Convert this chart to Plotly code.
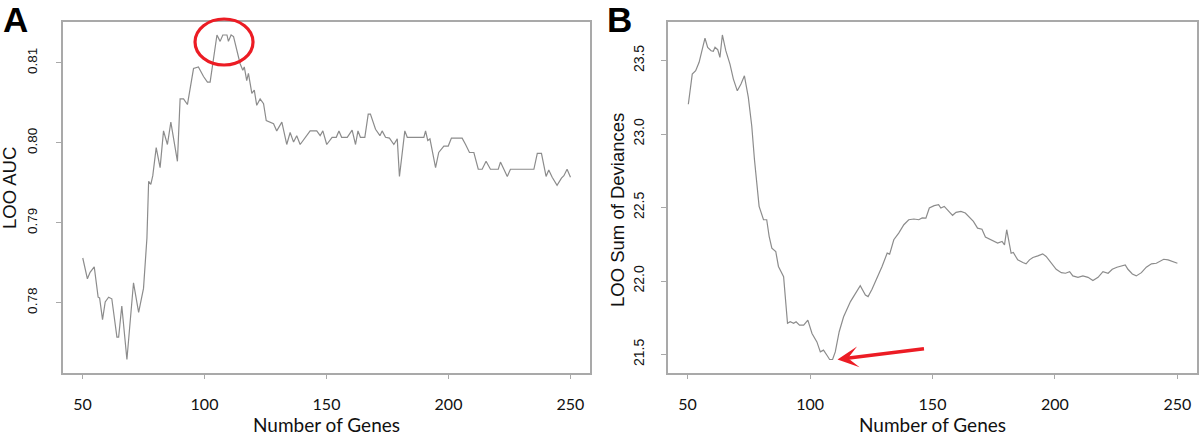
import plotly.graph_objects as go

# ---------------- data ----------------
genes_a = [50.1, 52.0, 53.1, 54.8, 56.4, 57.0, 58.2, 59.3, 60.7, 62.0, 64.1, 64.8, 66.1, 68.2,
           70.9, 73.0, 75.0, 76.4, 77.1, 78.0, 78.8, 80.2, 81.8, 83.2, 84.8, 86.2, 88.9, 90.0,
           91.4, 93.0, 95.5, 97.5, 99.6, 101.2, 102.3, 105.1, 106.4, 107.5, 109.2, 109.8, 110.9,
           111.9, 114.6, 115.7, 116.3, 117.3, 118.0, 119.4, 120.4, 121.4, 122.8, 124.2, 125.3,
           128.3, 129.6, 131.7, 133.7, 135.1, 136.5, 137.8, 139.2, 141.2, 143.3, 146.0, 147.4,
           148.5, 150.1, 152.3, 154.0, 155.1, 156.2, 158.5, 160.5, 161.9, 162.9, 163.9, 165.7,
           167.1, 168.0, 170.1, 171.9, 172.8, 174.2, 175.8, 177.6, 179.0, 179.9, 182.1, 183.1,
           189.9, 190.6, 191.5, 192.4, 194.7, 196.0, 198.1, 199.9, 201.2, 205.6, 207.0, 208.6,
           210.4, 212.2, 213.8, 215.4, 217.2, 220.4, 221.3, 222.7, 224.1, 225.4, 235.0, 236.4,
           238.1, 240.0, 241.1, 242.5, 244.5, 246.3, 247.3, 248.6, 250.0]
auc_a = [0.7856, 0.7830, 0.7838, 0.7845, 0.7807, 0.7806, 0.7779, 0.7801, 0.7807, 0.7805, 0.7757,
         0.7757, 0.7796, 0.7729, 0.7825, 0.7788, 0.7818, 0.7881, 0.7952, 0.7948, 0.7959, 0.7994,
         0.7969, 0.8015, 0.7998, 0.8026, 0.7977, 0.8055, 0.8055, 0.8048, 0.8093, 0.8095, 0.8083,
         0.8076, 0.8076, 0.8135, 0.8127, 0.8135, 0.8135, 0.8127, 0.8135, 0.8133, 0.8099, 0.8091,
         0.8095, 0.8078, 0.8087, 0.8062, 0.8066, 0.8047, 0.8055, 0.8049, 0.8028, 0.8024, 0.8015,
         0.8026, 0.7998, 0.8013, 0.8001, 0.8009, 0.7998, 0.8007, 0.8015, 0.8015, 0.8009, 0.8015,
         0.7998, 0.8007, 0.8007, 0.8015, 0.8007, 0.8007, 0.8016, 0.7998, 0.8015, 0.8007, 0.8007,
         0.8036, 0.8036, 0.8017, 0.8009, 0.8015, 0.8007, 0.8006, 0.7998, 0.8005, 0.7958, 0.8015,
         0.8007, 0.8007, 0.8015, 0.8003, 0.8005, 0.7969, 0.7988, 0.7996, 0.7996, 0.8006, 0.8006,
         0.7998, 0.7988, 0.7988, 0.7967, 0.7967, 0.7977, 0.7967, 0.7967, 0.7976, 0.7967, 0.7958,
         0.7967, 0.7967, 0.7987, 0.7987, 0.7958, 0.7966, 0.7957, 0.7947, 0.7956, 0.7959, 0.7967,
         0.7957]

genes_b = [50.3, 51.9, 53.3, 54.7, 57.1, 58.2, 59.6, 60.5, 61.2, 62.3, 63.2, 64.2, 65.6, 67.3,
           68.7, 70.3, 71.8, 73.2, 74.8, 76.2, 77.3, 78.3, 79.2, 81.0, 82.3, 83.3, 84.4, 86.0,
           87.1, 89.2, 89.9, 90.8, 91.9, 93.3, 94.3, 95.7, 97.4, 99.1, 100.8, 102.8, 104.2, 105.5,
           106.9, 108.0, 109.2, 110.3, 111.9, 113.7, 116.5, 118.5, 120.5, 122.6, 123.7, 125.3,
           128.0, 129.4, 131.5, 132.5, 134.2, 136.2, 138.3, 140.3, 142.4, 144.4, 145.8, 147.3,
           148.7, 150.7, 152.5, 153.4, 154.8, 156.9, 158.2, 159.6, 161.6, 163.4, 165.0, 166.7,
           168.4, 170.2, 171.6, 173.2, 175.3, 176.6, 178.4, 179.4, 180.3, 181.4, 182.1, 183.0,
           184.8, 186.9, 188.2, 189.6, 191.0, 193.0, 195.0, 196.4, 198.5, 200.5, 202.6, 204.3,
           206.0, 207.3, 209.4, 211.4, 213.5, 215.5, 217.6, 219.6, 221.7, 223.4, 225.3, 227.1,
           228.7, 229.8, 231.6, 233.2, 235.3, 237.3, 239.4, 241.4, 242.8, 244.4, 246.2, 248.3,
           250.0]
dev_b = [23.203, 23.408, 23.431, 23.488, 23.652, 23.590, 23.567, 23.563, 23.590, 23.574, 23.522,
         23.674, 23.567, 23.476, 23.374, 23.294, 23.340, 23.396, 23.249, 23.055, 22.827, 22.645,
         22.508, 22.417, 22.417, 22.304, 22.224, 22.201, 22.099, 22.030, 21.871, 21.712, 21.723,
         21.712, 21.723, 21.700, 21.700, 21.734, 21.643, 21.586, 21.518, 21.530, 21.495, 21.466,
         21.466, 21.518, 21.655, 21.757, 21.860, 21.917, 21.969, 21.905, 21.894, 21.944, 22.042,
         22.099, 22.190, 22.183, 22.281, 22.326, 22.383, 22.417, 22.422, 22.417, 22.429, 22.428,
         22.497, 22.513, 22.519, 22.497, 22.508, 22.467, 22.447, 22.467, 22.474, 22.463, 22.435,
         22.406, 22.360, 22.353, 22.299, 22.285, 22.269, 22.258, 22.269, 22.246, 22.349, 22.246,
         22.189, 22.194, 22.144, 22.126, 22.117, 22.144, 22.160, 22.171, 22.185, 22.167, 22.121,
         22.080, 22.057, 22.053, 22.064, 22.035, 22.025, 22.035, 22.025, 22.003, 22.025, 22.064,
         22.053, 22.080, 22.094, 22.103, 22.110, 22.080, 22.048, 22.035, 22.057, 22.094, 22.117,
         22.121, 22.133, 22.148, 22.144, 22.133, 22.121]

x_ticks = [50, 100, 150, 200, 250]
y_ticks_a = [0.78, 0.79, 0.80, 0.81]
y_ticks_b = [21.5, 22.0, 22.5, 23.0, 23.5]

x_title = "Number of Genes"
y_title_a = "LOO AUC"
y_title_b = "LOO Sum of Deviances"

# ---------------- layout geometry ----------------
W, H = 1200, 435
dom_xa = [63 / W, 590 / W]
dom_xb = [668 / W, 1197 / W]
dom_y = [1 - 372.5 / H, 1 - 22 / H]


def r_range(vals):
    lo, hi = min(vals), max(vals)
    pad = 0.04 * (hi - lo)
    return [lo - pad, hi + pad]


xr = [42, 258]
yr_a = r_range(auc_a)
yr_b = r_range(dev_b)

LINE = "#8c8c8c"
BOX = "#a9a9a9"
RED = "#ec1c24"

fig = go.Figure()
fig.add_trace(go.Scatter(x=genes_a, y=auc_a, mode="lines", line=dict(color=LINE, width=1.2),
                         xaxis="x", yaxis="y", showlegend=False, hoverinfo="skip"))
fig.add_trace(go.Scatter(x=genes_b, y=dev_b, mode="lines", line=dict(color=LINE, width=1.2),
                         xaxis="x2", yaxis="y2", showlegend=False, hoverinfo="skip"))

xfont = dict(family="Lato, Carlito, sans-serif", size=16, color="#111")
yfont_a = dict(family="Liberation Sans, Arial, sans-serif", size=13.5, color="#111")
yfont_b = dict(family="Liberation Sans, Arial, sans-serif", size=14, color="#111")

common = dict(showgrid=False, zeroline=False, showline=True, mirror=True, linecolor=BOX,
              linewidth=1.6, ticks="outside", ticklen=5, tickwidth=1.3, tickcolor=BOX)

fig.update_layout(
    width=W, height=H, margin=dict(l=0, r=0, t=0, b=0),
    paper_bgcolor="white", plot_bgcolor="white", showlegend=False,
    xaxis=dict(domain=dom_xa, range=xr, tickvals=x_ticks, tickfont=xfont, anchor="y",
               ticklabelstandoff=11, **common),
    yaxis=dict(domain=dom_y, range=yr_a, tickvals=y_ticks_a, tickformat=".2f", tickfont=yfont_a,
               tickangle=-90, anchor="x", ticklabelstandoff=14, **common),
    xaxis2=dict(domain=dom_xb, range=xr, tickvals=x_ticks, tickfont=xfont, anchor="y2",
                ticklabelstandoff=11, **common),
    yaxis2=dict(domain=dom_y, range=yr_b, tickvals=y_ticks_b, tickformat=".1f", tickfont=yfont_b,
                tickangle=-90, anchor="x2", ticklabelstandoff=12, **common),
)


def px_x(v, dom):
    return dom[0] + (v - xr[0]) / (xr[1] - xr[0]) * (dom[1] - dom[0])


def px_y(v, rng):
    return dom_y[0] + (v - rng[0]) / (rng[1] - rng[0]) * (dom_y[1] - dom_y[0])


# red ellipse around the AUC peak (paper coords so it can cross the frame)
peak = max(auc_a)
peak_genes = [g for g, v in zip(genes_a, auc_a) if v == peak]
cx = px_x((min(peak_genes) + max(peak_genes)) / 2, dom_xa)
cy = px_y(peak, yr_a) - 7 / H
rx, ry = 29 / W, 23 / H
fig.add_shape(type="circle", xref="paper", yref="paper", x0=cx - rx, x1=cx + rx,
              y0=cy - ry, y1=cy + ry, line=dict(color=RED, width=3.2))

# red arrow pointing at the deviance minimum
mn = min(dev_b)
mn_gene = [g for g, v in zip(genes_b, dev_b) if v == mn][-1]
fig.add_annotation(x=mn_gene + 2.0, y=mn, xref="x2", yref="y2", text="", showarrow=True,
                   ax=88, ay=-11, axref="pixel", ayref="pixel", arrowhead=3, arrowsize=1,
                   arrowwidth=3.5, arrowcolor=RED, standoff=0)

# axis titles
tfont = dict(family="Lato, Carlito, sans-serif", size=19, color="#111")
for dom in (dom_xa, dom_xb):
    fig.add_annotation(x=(dom[0] + dom[1]) / 2, y=1 - 424 / H, xref="paper", yref="paper",
                       text=x_title, showarrow=False, font=tfont, xanchor="center",
                       yanchor="middle")
yt_font = dict(family="Liberation Sans, Arial, sans-serif", size=18.5, color="#111")
fig.add_annotation(x=9 / W, y=1 - 188 / H, xref="paper", yref="paper", text=y_title_a,
                   showarrow=False, font=yt_font, textangle=-90, xanchor="center",
                   yanchor="middle")
fig.add_annotation(x=617 / W, y=1 - 210 / H, xref="paper", yref="paper", text=y_title_b,
                   showarrow=False, font=yt_font, textangle=-90, xanchor="center",
                   yanchor="middle")

# panel letters
lfont = dict(family="Liberation Sans, Arial, sans-serif", size=35, color="black")
fig.add_annotation(x=15 / W, y=1 - 20 / H, xref="paper", yref="paper", text="<b>A</b>",
                   showarrow=False, font=lfont, xanchor="center", yanchor="middle")
fig.add_annotation(x=619 / W, y=1 - 20 / H, xref="paper", yref="paper", text="<b>B</b>",
                   showarrow=False, font=lfont, xanchor="center", yanchor="middle")

# remove the default page margin so the figure sits at the window's top-left corner
fig.write_html("out.html", config={"displayModeBar": False},
               post_script="document.body.style.margin='0px';")
